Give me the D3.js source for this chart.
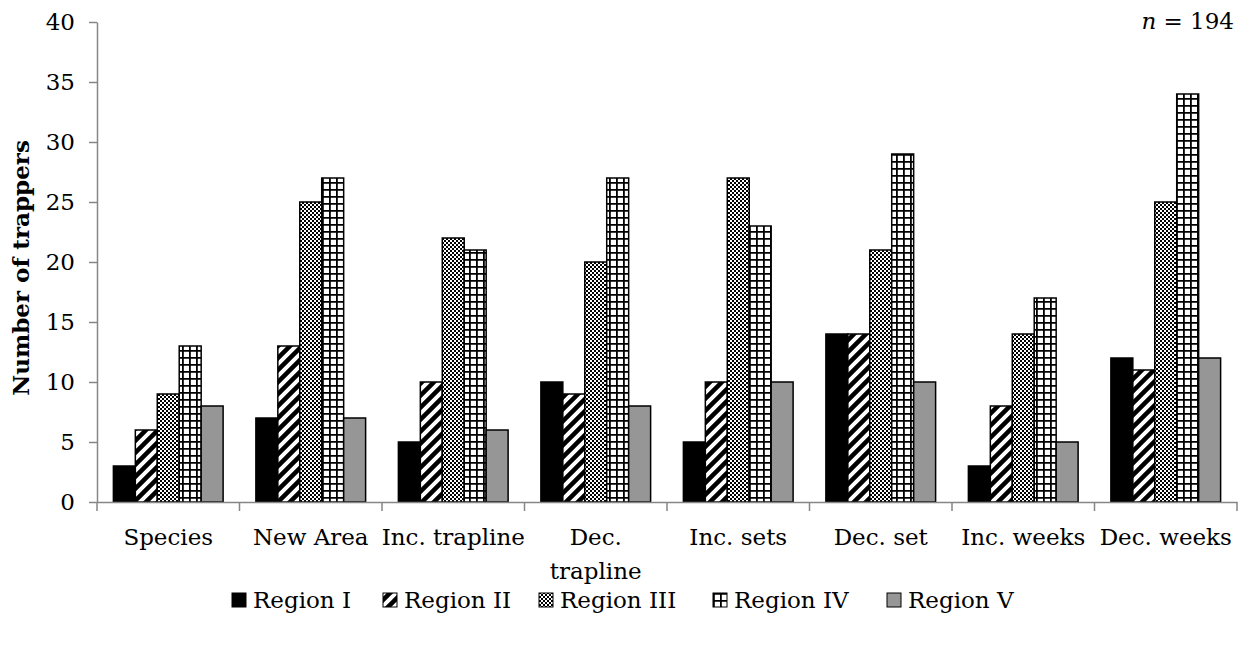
<!DOCTYPE html>
<html><head><meta charset="utf-8">
<script src="https://cdn.jsdelivr.net/npm/d3@7"></script>
<style>
body{margin:0;background:#fff;}
svg{display:block;}
svg text{font-family:"DejaVu Serif",serif;}
</style></head>
<body><svg id="c" width="1247" height="645"></svg>
<script>
const categories = ["Species","New Area","Inc. trapline","Dec. trapline","Inc. sets","Dec. set","Inc. weeks","Dec. weeks"];
const tickLabels = [["Species"],["New Area"],["Inc. trapline"],["Dec.","trapline"],["Inc. sets"],["Dec. set"],["Inc. weeks"],["Dec. weeks"]];
const seriesNames = ["Region I","Region II","Region III","Region IV","Region V"];
const regionI   = [3, 7, 5, 10, 5, 14, 3, 12];
const regionII  = [6, 13, 10, 9, 10, 14, 8, 11];
const regionIII = [9, 25, 22, 20, 27, 21, 14, 25];
const regionIV  = [13, 27, 21, 27, 23, 29, 17, 34];
const regionV   = [8, 7, 6, 8, 10, 10, 5, 12];
const yTicks = [0,5,10,15,20,25,30,35,40];
const seriesValues = [regionI, regionII, regionIII, regionIV, regionV];

const FS = 23;
const svg = d3.select("#c");
const m = {l:97, r:10, t:22, b:143};
const W = 1247, H = 645;

const defs = svg.append("defs");
// Region II: upward diagonal stripes
const p2 = defs.append("pattern").attr("id","p2").attr("patternUnits","userSpaceOnUse").attr("width",12).attr("height",12);
p2.append("rect").attr("width",12).attr("height",12).attr("fill","#fff");
p2.append("path").attr("d","M-3,15 L15,-3 M-9,9 L9,-9 M3,21 L21,3").attr("stroke","#000").attr("stroke-width",4.5);
// Region III: small checker
const p3 = defs.append("pattern").attr("id","p3").attr("patternUnits","userSpaceOnUse").attr("width",4).attr("height",4);
p3.append("rect").attr("width",4).attr("height",4).attr("fill","#fff");
p3.append("rect").attr("width",2).attr("height",2).attr("fill","#000");
p3.append("rect").attr("x",2).attr("y",2).attr("width",2).attr("height",2).attr("fill","#000");
// Region IV: grid
const p4 = defs.append("pattern").attr("id","p4").attr("patternUnits","userSpaceOnUse").attr("width",7).attr("height",7);
p4.append("rect").attr("width",7).attr("height",7).attr("fill","#fff");
p4.append("path").attr("d","M0,0.9 H7 M0.9,0 V7").attr("stroke","#000").attr("stroke-width",1.8);
const fills = ["#000","url(#p2)","url(#p3)","url(#p4)","#969696"];

const x0 = d3.scaleBand().domain(categories).range([m.l, W - m.r]).paddingInner(0.23).paddingOuter(0.115);
const x1 = d3.scaleBand().domain(seriesNames).range([0, x0.bandwidth()]);
const y = d3.scaleLinear().domain([0,40]).range([H - m.b, m.t]);

// bars
seriesNames.forEach((s, si) => {
  svg.append("g").selectAll("rect").data(categories).join("rect")
    .attr("x", c => x0(c) + x1(s))
    .attr("y", (c, i) => y(seriesValues[si][i]))
    .attr("width", x1.bandwidth())
    .attr("height", (c, i) => y(0) - y(seriesValues[si][i]))
    .attr("fill", fills[si])
    .attr("stroke", "#000").attr("stroke-width", 1.5);
});

// y axis
const ya = svg.append("g").attr("transform", `translate(${m.l},0)`)
  .call(d3.axisLeft(y).tickValues(yTicks).tickSize(8).tickPadding(14).tickSizeOuter(0));
ya.attr("font-family", null).attr("font-size", null);
ya.select(".domain").attr("stroke","#868686").attr("stroke-width",1.5);
ya.selectAll(".tick line").attr("stroke","#868686").attr("stroke-width",1.5);
ya.selectAll(".tick text").attr("font-size",FS).attr("fill","#000");

// x axis
const xa = svg.append("g").attr("transform", `translate(0,${y(0)})`)
  .call(d3.axisBottom(x0).tickSize(0).tickSizeOuter(0).tickFormat(""));
xa.attr("font-family", null).attr("font-size", null);
xa.select(".domain").attr("stroke","#868686").attr("stroke-width",1.5);
const half = x0.step() * x0.paddingInner() / 2;
const bounds = categories.map(c => x0(c) - half).concat([x0(categories[categories.length-1]) + x0.bandwidth() + half]);
xa.selectAll("line.bt").data(bounds).join("line").attr("class","bt")
  .attr("x1", d => d).attr("x2", d => d).attr("y1", 0).attr("y2", 9)
  .attr("stroke","#868686").attr("stroke-width",1.5);
const lbl = xa.selectAll("text.cl").data(categories).join("text").attr("class","cl")
  .attr("x", c => x0(c) + x0.bandwidth()/2).attr("y", 43)
  .attr("text-anchor","middle").attr("font-size",FS).attr("fill","#000");
lbl.each(function(c, i){
  d3.select(this).selectAll("tspan").data(tickLabels[i]).join("tspan")
    .attr("x", x0(c) + x0.bandwidth()/2).attr("dy", (d, j) => j === 0 ? 0 : 34).text(d => d);
});

// y title
svg.append("text").attr("transform", `translate(29,${(y(0)+y(40))/2 + 6}) rotate(-90)`)
  .attr("text-anchor","middle").attr("font-weight","bold").attr("font-size",FS).text("Number of trappers");

// n label
const nt = svg.append("text").attr("x", 1234).attr("y", 29).attr("text-anchor","end").attr("font-size",FS);
nt.append("tspan").attr("font-style","italic").text("n");
nt.append("tspan").text(" = 194");

// legend
const legendX = [232, 383, 539, 713, 887];
const lg = svg.append("g").attr("transform","translate(0,600)");
seriesNames.forEach((s, i) => {
  const g = lg.append("g").attr("transform", `translate(${legendX[i]},0)`);
  g.append("rect").attr("x",0).attr("y",-7).attr("width",14).attr("height",14)
    .attr("fill", fills[i]).attr("stroke","#000").attr("stroke-width",1);
  g.append("text").attr("x",21).attr("y",8).attr("font-size",FS).text(s);
});
</script></body></html>
